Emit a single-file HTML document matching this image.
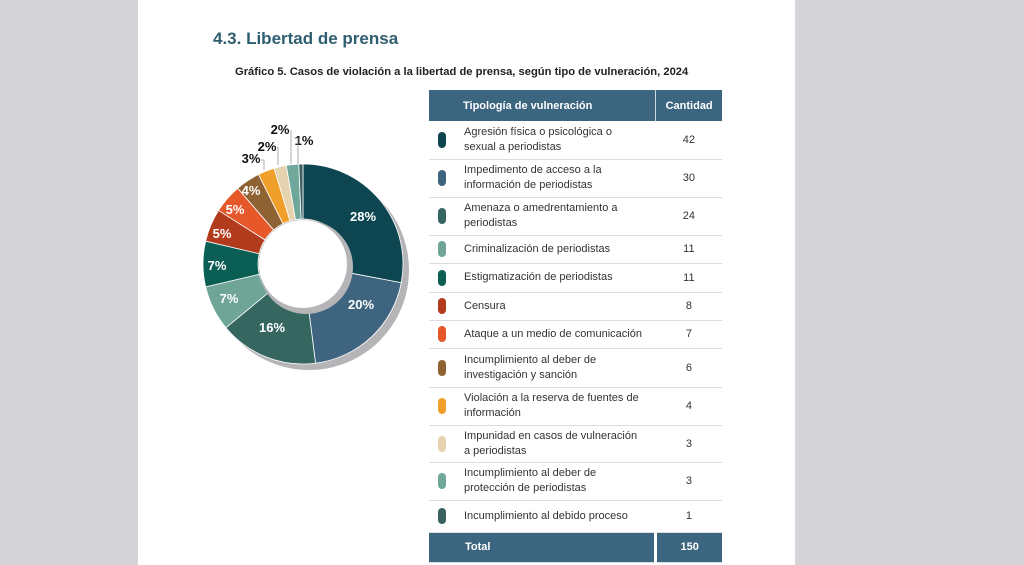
<!DOCTYPE html>
<html><head><meta charset="utf-8"><style>
body{margin:0;width:1024px;height:565px;background:#d4d4d9;font-family:"Liberation Sans",sans-serif;position:relative;overflow:hidden}
.page{position:absolute;left:138px;top:0;width:657px;height:565px;background:#fff}
h1{position:absolute;left:213px;top:29px;margin:0;font-size:17px;color:#2f5e70;font-weight:bold}
.cap{position:absolute;left:235px;top:66px;font-size:11.2px;font-weight:bold;color:#222}
table{position:absolute;left:429px;top:90px;border-collapse:collapse;font-size:11px;color:#333}
th{background:#3c6580;color:#fff;height:31px;font-size:11px;font-weight:bold}
td{border-bottom:1px solid #ddd;padding:0}
.d{width:8px;height:16px;border-radius:4px;display:inline-block}
</style></head><body>
<div class="page"></div>
<h1>4.3. Libertad de prensa</h1>
<div class="cap">Gráfico 5. Casos de violación a la libertad de prensa, según tipo de vulneración, 2024</div>
<svg id="s" width="1024" height="565" style="position:absolute;left:0;top:0"></svg>
<table id="t"></table>
<script>
var v=[42,30,24,11,11,8,7,6,4,3,3,1];
var c=["#0d4650","#3e6480","#356660","#6fa597","#0b5e54","#b23b1e","#e6572a","#8f6233","#f0a02a","#e6d4b0","#6fa89a","#3b6060"];
var n=["Agresión física o psicológica o<br>sexual a periodistas","Impedimento de acceso a la<br>información de periodistas","Amenaza o amedrentamiento a<br>periodistas","Criminalización de periodistas","Estigmatización de periodistas","Censura","Ataque a un medio de comunicación","Incumplimiento al deber de<br>investigación y sanción","Violación a la reserva de fuentes de<br>información","Impunidad en casos de vulneración<br>a periodistas","Incumplimiento al deber de<br>protección de periodistas","Incumplimiento al debido proceso"];
var h=[38,38,38,28,29,28,28,39,38,37,38,32];
var cx=303,cy=264,R=100,r=45,s='<circle cx="309" cy="270" r="100" fill="#b5b5b8"/>',a=0;
function p(ang,rad){return [cx+rad*Math.sin(ang),cy-rad*Math.cos(ang)]}
v.forEach(function(x,i){var b=a+x/150*2*Math.PI,l=(b-a)>Math.PI?1:0;
var A=p(a,R),B=p(b,R),C=p(b,r),D=p(a,r);
s+='<path d="M'+A+'A'+R+','+R+' 0 '+l+' 1 '+B+'L'+C+'A'+r+','+r+' 0 '+l+' 0 '+D+'Z" fill="'+c[i]+'" stroke="#fff" stroke-width="0.8"/>';a=b;});
s+='<circle cx="306" cy="267" r="47" fill="#b5b5b8"/><circle cx="303" cy="264" r="'+(r-1)+'" fill="#fff"/>';
var L=[["28%",363,221,1],["20%",361,309,1],["16%",272,332,1],["7%",229,303,1],["7%",217,270,1],["5%",222,238,1],["5%",235,214,1],["4%",251,195,1],["3%",251,163,0],["2%",267,151,0],["2%",280,134,0],["1%",304,145,0]];
L.forEach(function(t){s+='<text x="'+t[1]+'" y="'+t[2]+'" text-anchor="middle" font-size="13" font-weight="bold" fill="'+(t[3]?'#fff':'#111')+'">'+t[0]+'</text>';});
s+='<polyline points="261,160 264,160 264,170" fill="none" stroke="#999" stroke-width="0.8"/><polyline points="277,147 278,147 278,165" fill="none" stroke="#999" stroke-width="0.8"/><polyline points="291,130 291,164" fill="none" stroke="#999" stroke-width="0.8"/><polyline points="294,138 298,138 298,164" fill="none" stroke="#999" stroke-width="0.8"/>';
document.getElementById('s').innerHTML=s;
var t='<tr><th style="width:226px;text-align:left;padding-left:34px;box-sizing:border-box;border-right:1px solid #cfd8e0">Tipología de vulneración</th><th style="width:66px;box-sizing:border-box">Cantidad</th></tr>';
v.forEach(function(x,i){t+='<tr style="height:'+h[i]+'px"><td style="padding-left:9px;line-height:15px"><span style="display:flex;align-items:center"><span class="d" style="background:'+c[i]+'"></span><span style="margin-left:18px">'+n[i]+'</span></span></td><td style="text-align:center">'+x+'</td></tr>';});
t+='<tr style="height:30px"><td style="background:#3c6580;color:#fff;font-weight:bold;padding-left:36px;border-right:3px solid #fff">Total</td><td style="background:#3c6580;color:#fff;font-weight:bold;text-align:center">150</td></tr>';
var T=document.getElementById('t');T.innerHTML=t;T.style.width='293px';T.style.tableLayout='fixed';
</script>
</body></html>
